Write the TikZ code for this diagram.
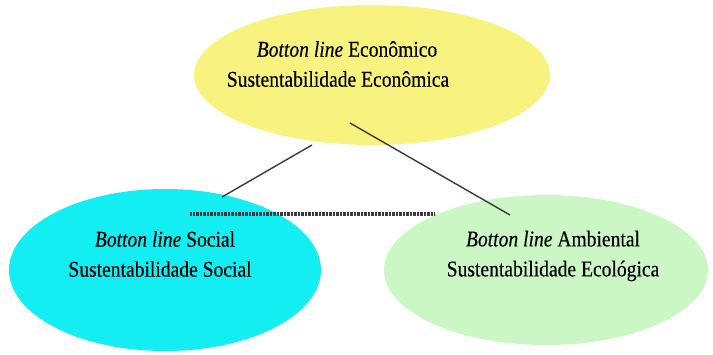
\documentclass[tikz,border=0pt]{standalone}
\usepackage{fontspec}
\setmainfont{Liberation Serif}[FakeStretch=0.87,FakeBold=0.3]
\usetikzlibrary{shapes.geometric}
\definecolor{ecoyellow}{HTML}{F8F27E}
\definecolor{socialcyan}{HTML}{12EEF2}
\definecolor{ambgreen}{HTML}{CBF7C4}
\definecolor{linegray}{HTML}{3A3A3A}
\tikzset{
  blob/.style={ellipse, draw=none, inner sep=0pt},
  lbl/.style={align=center, font=\fontsize{22.5}{30}\selectfont, text=black, inner sep=0pt},
  link/.style={draw=linegray, line width=1.4pt},
  dlink/.style={draw=linegray, line width=3.6pt, dash pattern=on 0.9pt off 0.5pt}
}
\begin{document}
\begin{tikzpicture}[x=1pt,y=-1pt]
\useasboundingbox (0,0) rectangle (713,354);
\node[blob, fill=ecoyellow, minimum width=356pt, minimum height=140pt] (eco) at (372,75) {};
\node[blob, fill=socialcyan, minimum width=312pt, minimum height=162pt] (soc) at (165,270) {};
\node[blob, fill=ambgreen, minimum width=324pt, minimum height=150pt] (amb) at (546,270) {};
\node[lbl] (ecotxt) at (338,64) {\hspace*{18pt}\textit{Botton line} Econômico\\Sustentabilidade Econômica};
\node[lbl] (soctxt) at (160,254) {\hspace*{10pt}\textit{Botton line} Social\\Sustentabilidade Social};
\node[lbl] (ambtxt) at (553,256) {\textit{Botton line} Ambiental\\Sustentabilidade Ecológica};
\coordinate (e1) at (312,145);
\coordinate (s1) at (222,197);
\coordinate (e2) at (350,123);
\coordinate (a1) at (510,215);
\coordinate (s2) at (190,214);
\coordinate (a2) at (435,214);
\draw[link] (e1) -- (s1);
\draw[link] (e2) -- (a1);
\draw[dlink] (s2) -- (a2);
\end{tikzpicture}
\end{document}
